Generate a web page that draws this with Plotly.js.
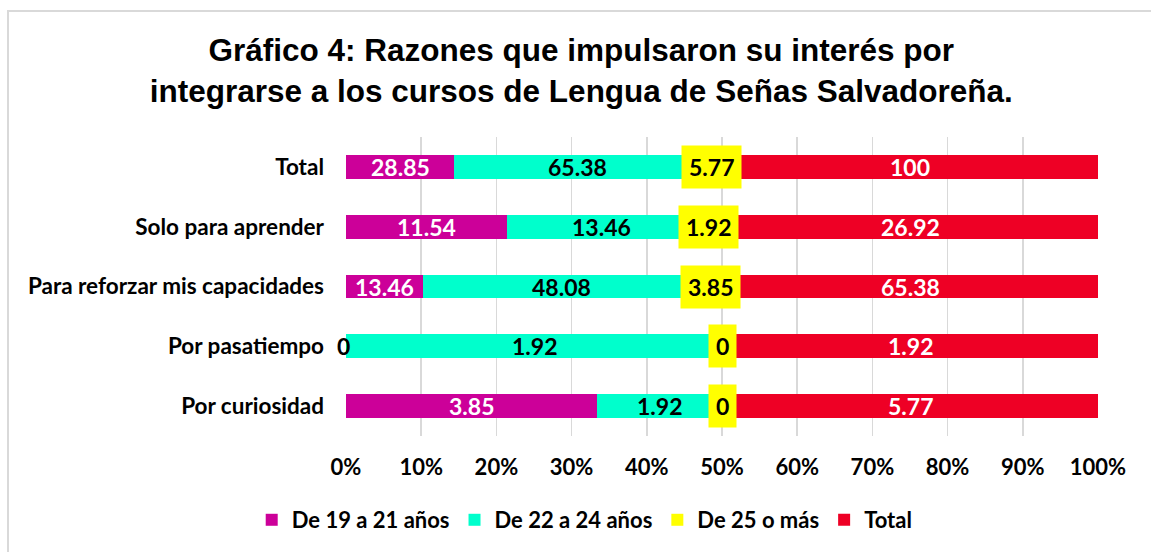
<!DOCTYPE html>
<html>
<head>
<meta charset="utf-8">
<script src="https://cdn.plot.ly/plotly-3.0.1.min.js"></script>
<style>
  html, body { margin: 0; padding: 0; background: #fff; }
  #wrap { position: relative; width: 1151px; height: 552px; }
  #chart { width: 1151px; height: 552px; }
  #frame { position: absolute; left: 7px; top: 10px; right: -10px; bottom: -10px;
           border-top: 2px solid #d9d9d9; border-left: 2px solid #d9d9d9; pointer-events: none; }
</style>
</head>
<body>
<div id="wrap"><div id="chart"></div><div id="frame"></div></div>
<script>
// Categories, top to bottom
const categories = ["Total", "Solo para aprender", "Para reforzar mis capacidades", "Por pasatiempo", "Por curiosidad"];
// Series values
const seriesNames = ["De 19 a 21 años", "De 22 a 24 años", "De 25 o más", "Total"];
const de19a21 = [28.85, 11.54, 13.46, 0, 3.85];
const de22a24 = [65.38, 13.46, 48.08, 1.92, 1.92];
const de25mas = [5.77, 1.92, 3.85, 0, 0];
const totalSeries = [100, 26.92, 65.38, 1.92, 5.77];
const tickVals = [0, 10, 20, 30, 40, 50, 60, 70, 80, 90, 100];
const tickLabels = ["0%", "10%", "20%", "30%", "40%", "50%", "60%", "70%", "80%", "90%", "100%"];

const series = [de19a21, de22a24, de25mas, totalSeries];
const colors = ["#CC0099", "#00FFCC", "#FFFF00", "#EE0025"];
const labelColors = ["#ffffff", "#000000", "#000000", "#ffffff"];
const labelFont = "Lato, 'Open Sans', sans-serif";

const traces = series.map((vals, i) => ({
  type: "bar",
  orientation: "h",
  name: seriesNames[i],
  y: categories,
  x: vals,
  marker: { color: colors[i], line: { width: 0 } },
  width: 0.4,
  hoverinfo: "x+y+name"
}));

// Data labels, positioned at segment centres of the normalised stack
const annotations = [];
categories.forEach((cat, j) => {
  const rowSum = series.reduce((s, arr) => s + arr[j], 0);
  let cum = 0;
  series.forEach((arr, i) => {
    const pct = arr[j] / rowSum * 100;
    const zero = arr[j] === 0;
    const a = {
      x: cum + pct / 2, y: cat, xref: "x", yref: "y",
      text: String(arr[j]), showarrow: false,
      font: { family: labelFont, size: 23, color: zero ? "#000000" : labelColors[i], weight: "bold" }
    };
    if (i === 2) { a.bgcolor = colors[2]; a.borderpad = 7; }
    if (zero && i !== 2) { a.xshift = -3; }
    annotations.push(a);
    cum += pct;
  });
});

const layout = {
  width: 1151, height: 552,
  paper_bgcolor: "#ffffff", plot_bgcolor: "#ffffff",
  margin: { l: 346, r: 53, t: 137, b: 116 },
  barmode: "stack",
  barnorm: "percent",
  title: {
    text: "Gráfico 4: Razones que impulsaron su interés por<br>integrarse a los cursos de Lengua de Señas Salvadoreña.",
    font: { family: "'Liberation Sans', Arial, sans-serif", size: 31.5, color: "#000", weight: "bold" },
    x: 0.505, xref: "container", xanchor: "center",
    y: 0.89, yref: "container", yanchor: "middle"
  },
  xaxis: {
    range: [0, 100], tickvals: tickVals, ticktext: tickLabels,
    showgrid: true, gridcolor: "#d9d9d9", gridwidth: 1.5, zeroline: false,
    showline: false, ticks: "", fixedrange: true, ticklabelstandoff: 16,
    tickfont: { family: labelFont, size: 22, color: "#000", weight: "bold" }
  },
  yaxis: {
    type: "category", categoryorder: "array", categoryarray: categories,
    autorange: "reversed", showgrid: false, zeroline: false, showline: false,
    ticks: "", ticklabelstandoff: 21,
    tickfont: { family: labelFont, size: 22.5, color: "#000", weight: "bold" }
  },
  showlegend: true,
  legend: {
    orientation: "h", xref: "container", yref: "container",
    x: 0.508, xanchor: "center", y: 0.058, yanchor: "middle",
    font: { family: labelFont, size: 22, color: "#000", weight: "bold" },
    traceorder: "normal", itemwidth: 30
  },
  annotations: annotations
};

Plotly.newPlot("chart", traces, layout, { displayModeBar: false, staticPlot: true });
</script>
</body>
</html>
